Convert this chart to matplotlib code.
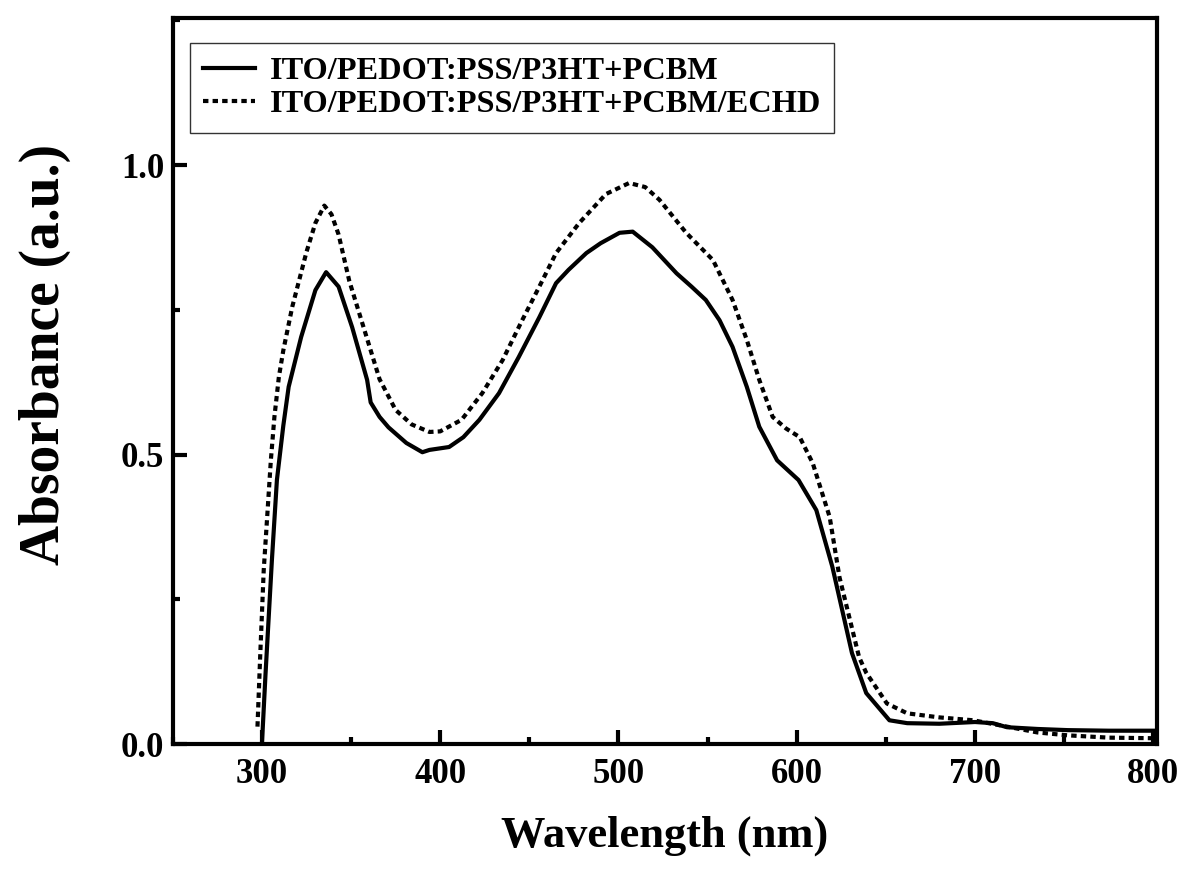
import numpy as np
import matplotlib
matplotlib.use("Agg")
import matplotlib.pyplot as plt
from matplotlib.ticker import MultipleLocator

plt.rcParams["font.family"] = ["Liberation Serif", "DejaVu Serif"]
plt.rcParams["font.weight"] = "bold"

# ITO/PEDOT:PSS/P3HT+PCBM (solid)
wl_ref = [300, 302, 305.6, 308.4, 312, 315, 322, 330, 336, 343, 350.6, 359, 361,
          366, 371, 381, 390, 394, 405, 413, 422, 433, 444, 455.6, 465, 472, 482,
          490, 500.6, 508, 519, 532.6, 541, 549, 556.7, 564, 572, 579, 589, 601,
          611, 620, 631, 639, 652, 662, 680, 700, 710, 718, 735, 752, 775, 800]
abs_ref = [0.0, 0.12, 0.318, 0.456, 0.55, 0.617, 0.703, 0.784, 0.815, 0.79, 0.72,
           0.629, 0.59, 0.565, 0.547, 0.52, 0.504, 0.508, 0.513, 0.53, 0.56, 0.606,
           0.668, 0.737, 0.796, 0.819, 0.848, 0.865, 0.883, 0.885, 0.858, 0.813,
           0.79, 0.767, 0.732, 0.686, 0.617, 0.548, 0.49, 0.456, 0.404, 0.306,
           0.157, 0.088, 0.041, 0.036, 0.035, 0.038, 0.036, 0.029, 0.026, 0.024,
           0.023, 0.023]

# ITO/PEDOT:PSS/P3HT+PCBM/ECHD (dashed)
wl_echd = [297.5, 299, 301, 305, 307, 309.5, 312, 317, 325, 330, 335, 339, 343,
           349, 358, 366, 375, 384, 394, 400, 412, 423.6, 435, 446, 455.6, 465,
           478, 493, 506, 515, 523, 538, 553, 564, 572, 579, 586.5, 594, 601.7,
           609, 618.5, 624, 635, 639, 650.6, 662, 680, 699, 718, 735, 752, 775, 800]
abs_echd = [0.03, 0.15, 0.3, 0.49, 0.565, 0.634, 0.68, 0.755, 0.85, 0.9, 0.93,
            0.915, 0.88, 0.80, 0.71, 0.63, 0.577, 0.552, 0.539, 0.54, 0.56, 0.606,
            0.663, 0.732, 0.79, 0.848, 0.90, 0.95, 0.969, 0.962, 0.94, 0.883,
            0.836, 0.767, 0.698, 0.629, 0.565, 0.545, 0.53, 0.485, 0.392, 0.288,
            0.15, 0.123, 0.07, 0.053, 0.046, 0.041, 0.03, 0.02, 0.015, 0.011, 0.01]

labels = ["ITO/PEDOT:PSS/P3HT+PCBM", "ITO/PEDOT:PSS/P3HT+PCBM/ECHD"]

fig = plt.figure(figsize=(12, 8.83), dpi=100)
ax = fig.add_axes([0.144, 0.1574, 0.820, 0.8222])

ax.plot(wl_ref, abs_ref, color="black", lw=3, label=labels[0])
ax.plot(wl_echd, abs_echd, color="black", lw=3, linestyle=(0, (1.3, 1.0)),
        label=labels[1])

ax.set_xlim(250, 802)
ax.set_ylim(0, 1.254)
ax.xaxis.set_major_locator(MultipleLocator(100))
ax.xaxis.set_minor_locator(MultipleLocator(50))
ax.yaxis.set_major_locator(MultipleLocator(0.5))
ax.yaxis.set_minor_locator(MultipleLocator(0.25))
ax.set_xticks([300, 400, 500, 600, 700, 800])
ax.tick_params(which="major", direction="in", length=10, width=3, labelsize=25, pad=10)
ax.tick_params(which="minor", direction="in", length=5, width=3)
ax.tick_params(axis="y", which="major", pad=6)
for sp in ax.spines.values():
    sp.set_linewidth(3)
for lab in ax.get_xticklabels() + ax.get_yticklabels():
    lab.set_fontweight("bold")

ax.set_xlabel("Wavelength (nm)", fontsize=32, fontweight="bold", labelpad=18)
ax.set_ylabel("Absorbance (a.u.)", fontsize=40, fontweight="bold")
ax.yaxis.set_label_coords(-0.103, 0.537)

leg = ax.legend(loc="upper left", bbox_to_anchor=(0.017, 0.966), borderaxespad=0,
                prop={"weight": "bold", "size": 23.3}, handlelength=1.6,
                fancybox=False, frameon=True, borderpad=0.42, labelspacing=0.12,
                handletextpad=0.45)
leg.get_frame().set_edgecolor("black")
leg.get_frame().set_linewidth(1.0)

fig.savefig("out.png", dpi=100)
